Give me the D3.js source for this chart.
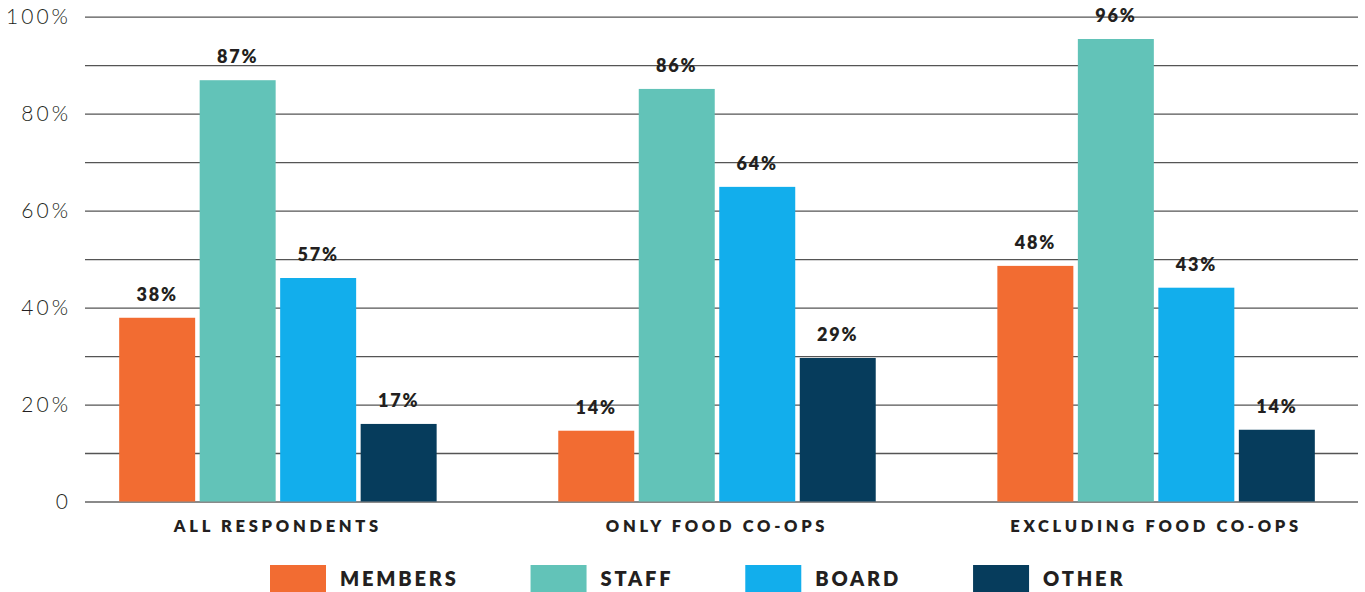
<!DOCTYPE html>
<html>
<head>
<meta charset="utf-8">
<script src="https://cdn.jsdelivr.net/npm/d3@7/dist/d3.min.js"></script>
<style>
  html, body { margin: 0; padding: 0; background: #fff; }
  svg { display: block; }
  text { font-family: Lato, "Open Sans", sans-serif; fill: #231F20; }
</style>
</head>
<body>
<svg id="chart" width="1365" height="592"></svg>
<script>
// ---- data ----
const categories = ["ALL RESPONDENTS", "ONLY FOOD CO-OPS", "EXCLUDING FOOD CO-OPS"];
const seriesNames = ["MEMBERS", "STAFF", "BOARD", "OTHER"];
const seriesColors = ["#F26C32", "#62C3B8", "#12AEEC", "#063C5C"];
// bar heights as drawn (percent)
const members = [37.9, 14.6, 48.6];
const staff   = [86.9, 85.1, 95.4];
const board   = [46.1, 64.9, 44.1];
const other   = [16.0, 29.6, 14.8];
// value labels as printed
const membersLabels = ["38%", "14%", "48%"];
const staffLabels   = ["87%", "86%", "96%"];
const boardLabels   = ["57%", "64%", "43%"];
const otherLabels   = ["17%", "29%", "14%"];
const gridValues = [0, 10, 20, 30, 40, 50, 60, 70, 80, 90, 100];
const tickLabels = {0: "0", 20: "20%", 40: "40%", 60: "60%", 80: "80%", 100: "100%"};

const seriesValues = [members, staff, board, other];
const seriesLabels = [membersLabels, staffLabels, boardLabels, otherLabels];

// ---- layout ----
const svg = d3.select("#chart");
const plotLeft = 85, plotRight = 1358;
const y = d3.scaleLinear().domain([0, 100]).range([501.5, 16.7]);
const x0 = d3.scaleBand().domain(categories).range([88, 1346])
  .paddingInner(0.277).paddingOuter(0.071);
const x1 = d3.scaleBand().domain(seriesNames).range([0, x0.bandwidth()])
  .paddingInner(0.056);

// gridlines + y labels via axis
const yAxis = d3.axisLeft(y)
  .tickValues(gridValues)
  .tickSize(-(plotRight - plotLeft))
  .tickPadding(14)
  .tickFormat(d => tickLabels[d] !== undefined ? tickLabels[d] : "");
const gAxis = svg.append("g")
  .attr("transform", `translate(${plotLeft},0)`)
  .call(yAxis);
gAxis.select(".domain").remove();
gAxis.selectAll(".tick line")
  .attr("stroke", d => d === 0 ? "#8a8a8a" : "#555")
  .attr("stroke-width", d => d === 0 ? 2 : 1.3);
gAxis.selectAll(".tick text")
  .attr("font-size", 21)
  .attr("font-weight", 300)
  .attr("letter-spacing", "3px")
  .style("font-family", "Lato, sans-serif")
  .attr("fill", "#333");

// bars
const rows = [];
categories.forEach((c, ci) => {
  seriesNames.forEach((s, si) => {
    rows.push({cat: c, series: s, value: seriesValues[si][ci], label: seriesLabels[si][ci], color: seriesColors[si]});
  });
});

const g = svg.append("g");
g.selectAll("rect.bar").data(rows).enter().append("rect")
  .attr("class", "bar")
  .attr("x", d => x0(d.cat) + x1(d.series))
  .attr("width", x1.bandwidth())
  .attr("y", d => y(d.value))
  .attr("height", d => y(0) - y(d.value))
  .attr("fill", d => d.color);

g.selectAll("text.val").data(rows).enter().append("text")
  .attr("class", "val")
  .attr("x", d => x0(d.cat) + x1(d.series) + x1.bandwidth() / 2)
  .attr("y", d => y(d.value) - 17)
  .attr("text-anchor", "middle")
  .attr("font-size", 18)
  .attr("font-weight", 800)
  .attr("letter-spacing", "1.8px")
  .text(d => d.label);

// category labels
svg.append("g").selectAll("text").data(categories).enter().append("text")
  .attr("x", d => x0(d) + x0.bandwidth() / 2)
  .attr("y", 532)
  .attr("text-anchor", "middle")
  .attr("font-size", 16.5)
  .attr("font-weight", 800)
  .attr("letter-spacing", "3.7px")
  .text(d => d);

// legend
const legend = svg.append("g");
let lx = 270;
seriesNames.forEach((s, i) => {
  legend.append("rect")
    .attr("x", lx).attr("y", 565)
    .attr("width", 56).attr("height", 28)
    .attr("fill", seriesColors[i]);
  const t = legend.append("text")
    .attr("x", lx + 56 + 14)
    .attr("y", 586)
    .attr("font-size", 20)
    .attr("font-weight", 800)
    .attr("letter-spacing", "2.8px")
    .text(s);
  const w = t.node().getComputedTextLength();
  lx = lx + 56 + 14 + w + 72;
});
</script>
</body>
</html>
